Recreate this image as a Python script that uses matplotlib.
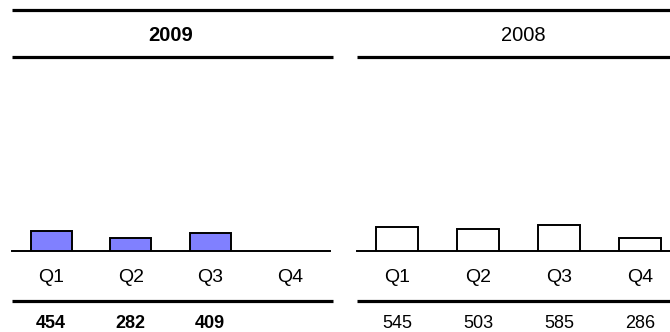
import matplotlib
matplotlib.use('Agg')
import matplotlib.pyplot as plt
from matplotlib.lines import Line2D

plt.rcParams['font.family'] = ['Liberation Sans', 'DejaVu Sans']

# Quarterly figures for the two years
quarters = ['Q1', 'Q2', 'Q3', 'Q4']
values_2009 = [454, 282, 409, None]
values_2008 = [545, 503, 585, 286]
years = ['2009', '2008']

W, H = 670, 332
fig = plt.figure(figsize=(W / 100, H / 100), dpi=100)


def px_x(x):
    return x / W


def px_y(y):
    return 1 - y / H


# Panel layout in pixels: (left edge, width)
panels = [(11.5, 318), (356.5, 324)]
base_y, top_y = 251, 57
ymax = 4350

# Horizontal rules across the figure
def hline(x0, x1, y, lw):
    fig.add_artist(Line2D([px_x(x0), px_x(x1)], [px_y(y), px_y(y)],
                          color='black', linewidth=lw,
                          transform=fig.transFigure, solid_capstyle='butt'))


hline(12, 670, 10, 2.3)
hline(12, 333, 57, 2.3)
hline(357, 670, 57, 2.3)
hline(12, 333, 300.5, 2.3)
hline(357, 670, 300.5, 2.3)

series = [values_2009, values_2008]
fills = ['#8080ff', 'white']
weights = ['bold', 'normal']

for (left, width), vals, fill, weight, year in zip(panels, series, fills, weights, years):
    ax = fig.add_axes([px_x(left), px_y(base_y), width / W, (base_y - top_y) / H])
    xs = [i for i, v in enumerate(vals) if v is not None]
    hs = [v for v in vals if v is not None]
    ax.bar(xs, hs, width=0.52, color=fill, edgecolor='black', linewidth=1.4, zorder=3)
    ax.set_xlim(-0.5, 3.5)
    ax.set_ylim(0, ymax)
    for s in ['top', 'left', 'right']:
        ax.spines[s].set_visible(False)
    ax.spines['bottom'].set_linewidth(1.4)
    ax.set_xticks([])
    ax.set_yticks([])
    ax.patch.set_alpha(0)

    tr = ax.get_xaxis_transform()
    for i, q in enumerate(quarters):
        ax.text(i, -0.139, q, transform=tr, ha='center', va='center', fontsize=14)
        if vals[i] is not None:
            ax.text(i, -0.376, str(vals[i]), transform=tr, ha='center', va='center',
                    fontsize=13, fontweight=weight)
    hx = 1.5 if year == '2009' else 1.56
    ax.text(hx, 1.113, year, transform=tr, ha='center', va='center',
            fontsize=14.5, fontweight=weight)

fig.savefig('out.png', dpi=100)
